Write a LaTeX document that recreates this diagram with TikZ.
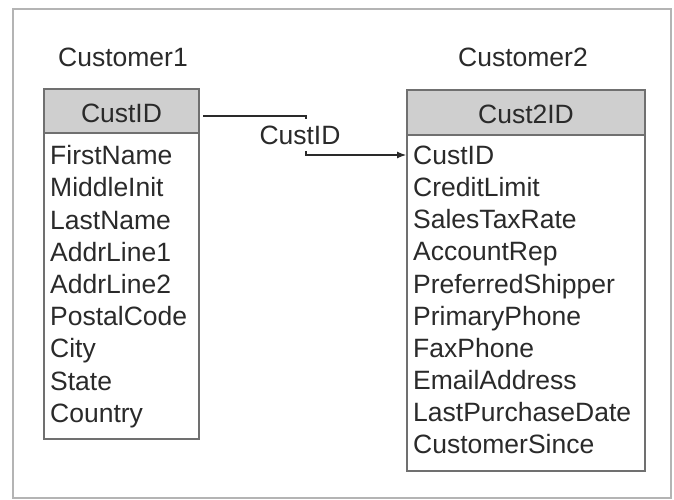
\documentclass[tikz,border=0pt]{standalone}
\usepackage{fontspec}
\setmainfont{Liberation Sans}
\usetikzlibrary{arrows.meta}
\definecolor{txt}{HTML}{2A2A2A}
\definecolor{hdr}{HTML}{CFCFCF}
\definecolor{brd}{HTML}{707070}
\definecolor{frm}{HTML}{B4B4B4}
\begin{document}
\begin{tikzpicture}[x=1pt,y=-1pt,
  lbl/.style={font=\fontsize{26.5}{30}\selectfont, text=txt, inner sep=0pt},
  fld/.style={lbl, anchor=mid west},
  tbl/.style={draw=brd, line width=1.4pt, fill=white},
  hbox/.style={draw=brd, line width=1.4pt, fill=hdr},
  link/.style={draw=txt, line width=1.1pt}]
\useasboundingbox (0,0) rectangle (674,500);
\draw[frm, line width=2pt] (13,9) rectangle (671,498);
% titles
\node[lbl] (title1) at (123,57) {Customer1};
\node[lbl] (title2) at (523,57) {Customer2};
% table 1
\draw[tbl] (44,89) rectangle (199,439);
\draw[hbox] (44,89) rectangle (199,133);
\node[lbl] (h1) at (121.5,113) {CustID};
\foreach \t [count=\i from 0] in {FirstName,MiddleInit,LastName,AddrLine1,AddrLine2,PostalCode,City,State,Country}
  \node[fld] (l\i) at (50,{162+32.2*\i}) {\t};
% table 2
\draw[tbl] (407,90) rectangle (645,471);
\draw[hbox] (407,90) rectangle (645,135);
\node[lbl] (h2) at (526,114) {Cust2ID};
\foreach \t [count=\i from 0] in {CustID,CreditLimit,SalesTaxRate,AccountRep,PreferredShipper,PrimaryPhone,FaxPhone,EmailAddress,LastPurchaseDate,CustomerSince}
  \node[fld] (r\i) at (413,{162+32.1*\i}) {\t};
% connector
\coordinate (c0) at (203,116);
\coordinate (c1) at (306,116);
\coordinate (c2) at (306,155);
\draw[link, -{Latex[length=9pt,width=7pt]}] (c0) -- (c1) -- (c2) -- (406,155);
\node[lbl, fill=white, inner xsep=1pt, minimum height=32pt] (conn) at (300,135) {CustID};
\end{tikzpicture}
\end{document}
